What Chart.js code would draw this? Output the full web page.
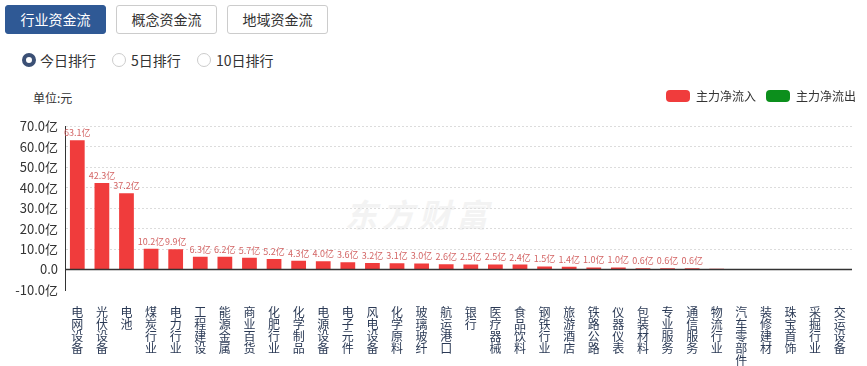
<!DOCTYPE html>
<html>
<head>
<meta charset="utf-8">
<script src="https://cdn.jsdelivr.net/npm/chart.js@4/dist/chart.umd.min.js"></script>
<style>
  body { margin: 0; width: 867px; height: 366px; overflow: hidden; background: #fff;
         font-family: "Noto Sans CJK SC", "Noto Sans", sans-serif; color: #333; }
  .tab { position: absolute; top: 5px; height: 27px; width: 99px; border: 1px solid #ccc; border-radius: 3px;
         font-size: 14px; line-height: 27px; text-align: center; background: #fff; color: #333; }
  .tab.on { background: #2f5995; border-color: #2f5995; color: #fff; }
  .radio { position: absolute; top: 53px; width: 12px; height: 12px; border: 1px solid #ccc; border-radius: 50%; }
  .radio.on { width: 6px; height: 6px; border: 4px solid #3b5075; }
  .rtxt { position: absolute; top: 50px; font-size: 14px; line-height: 20px; }
  #unit { position: absolute; left: 33px; top: 89px; font-size: 12px; }
  #wm { position: absolute; left: 345px; top: 190px; font-size: 32px; font-weight: bold; font-style: italic;
        color: #f3f3f3; letter-spacing: 5px; }
  #box { position: absolute; left: 0; top: 80px; width: 867px; height: 286px; }
</style>
</head>
<body>
<div class="tab on" style="left:5px">行业资金流</div>
<div class="tab" style="left:116px">概念资金流</div>
<div class="tab" style="left:227px">地域资金流</div>
<div class="radio on" style="left:22px"></div><div class="rtxt" style="left:40px">今日排行</div>
<div class="radio" style="left:112px"></div><div class="rtxt" style="left:131px">5日排行</div>
<div class="radio" style="left:197px"></div><div class="rtxt" style="left:216px">10日排行</div>
<div id="unit">单位:元</div>
<div id="wm">东方财富</div>
<div id="box"><canvas id="chart_flow"></canvas></div>
<script>
// 행업 (x축)
var sectors = ['电网设备', '光伏设备', '电池', '煤炭行业', '电力行业', '工程建设', '能源金属', '商业百货',
  '化肥行业', '化学制品', '电源设备', '电子元件', '风电设备', '化学原料', '玻璃玻纤', '航运港口',
  '银行', '医疗器械', '食品饮料', '钢铁行业', '旅游酒店', '铁路公路', '仪器仪表', '包装材料',
  '专业服务', '通信服务', '物流行业', '汽车零部件', '装修建材', '珠宝首饰', '采掘行业', '交运设备'];

// 주력 순유입 (亿)
var inflow = [63.1, 42.3, 37.2, 10.2, 9.9, 6.3, 6.2, 5.7, 5.2, 4.3, 4.0, 3.6, 3.2, 3.1, 3.0, 2.6,
  2.5, 2.5, 2.4, 1.5, 1.4, 1.0, 1.0, 0.6, 0.6, 0.6, 0.4, 0, 0, 0, 0, 0];
var outflow = sectors.map(() => null);

var yTicks = [-10, 0, 10, 20, 30, 40, 50, 60, 70];

// 막대 위 라벨 + 0 기준선
var barLabels = {
  id: 'barLabels',
  afterDatasetsDraw(chart) {
    var c = chart.ctx;
    var ys = chart.scales.y;
    var area = chart.chartArea;
    c.save();
    c.strokeStyle = '#333';
    c.lineWidth = 1.5;
    c.beginPath();
    c.moveTo(area.left, ys.getPixelForValue(0));
    c.lineTo(area.right, ys.getPixelForValue(0));
    c.stroke();
    c.font = '9px "Noto Sans CJK SC"';
    c.fillStyle = '#d36464';
    c.textAlign = 'center';
    c.textBaseline = 'bottom';
    chart.getDatasetMeta(0).data.forEach((bar, i) => {
      if (inflow[i] >= 0.5) c.fillText(inflow[i].toFixed(1) + '亿', bar.x, bar.y - 3);
    });
    c.restore();
  }
};

var config_flow = {
  type: 'bar',
  data: {
    labels: sectors.map(s => s.split('')),
    datasets: [{
      label: '主力净流入',
      data: inflow,
      backgroundColor: '#f03c3c'
    }, {
      label: '主力净流出',
      data: outflow,
      backgroundColor: '#0c8f1c'
    }]
  },
  options: {
    responsive: true,
    maintainAspectRatio: false,
    animation: false,
    layout: { padding: { left: 0, right: 1, top: 0, bottom: 0 } },
    datasets: { bar: { categoryPercentage: 1, barPercentage: 0.6 } },
    plugins: {
      tooltip: { enabled: false },
      // 범례와 차트 사이 간격
      title: { display: true, text: '', weight: 500, font: { size: 1 }, padding: { top: 0, bottom: 13 } },
      legend: {
        position: 'top',
        align: 'end',
        labels: {
          boxWidth: 24,
          boxHeight: 12,
          useBorderRadius: true,
          borderRadius: 4,
          padding: 10,
          color: '#333',
          font: { size: 12, family: '"Noto Sans CJK SC"' }
        }
      }
    },
    scales: {
      x: {
        stacked: true,
        grid: { display: false },
        border: { display: false },
        afterFit: (s) => { s.height = 76; },
        ticks: {
          autoSkip: false,
          maxRotation: 0,
          padding: 8,
          color: '#2b3a55',
          font: { size: 12, family: '"Noto Sans CJK SC"', lineHeight: 1.0 }
        }
      },
      y: {
        stacked: true,
        min: yTicks[0],
        max: yTicks[yTicks.length - 1],
        afterFit: (s) => { s.width = 65; },
        afterBuildTicks: (s) => { s.ticks = yTicks.map(v => ({ value: v })); },
        grid: {
          drawTicks: false,
          color: (ctx) => (ctx.tick && ctx.tick.value > 0) ? '#dcdcdc' : 'rgba(0,0,0,0)'
        },
        border: { display: true, color: '#333', dash: [2, 2] },
        ticks: {
          padding: 7,
          color: '#333',
          font: { size: 13, family: '"Noto Sans CJK SC"' },
          callback: (v) => v === 0 ? '0.0' : v.toFixed(1) + '亿'
        }
      },
      y2: {
        position: 'right',
        min: 0,
        max: 1,
        afterFit: (s) => { s.width = 14; },
        grid: { display: false },
        border: { display: false },
        ticks: { display: false }
      }
    }
  },
  plugins: [barLabels]
};

var chart_flow = new Chart(document.getElementById('chart_flow'), config_flow);
</script>
</body>
</html>
